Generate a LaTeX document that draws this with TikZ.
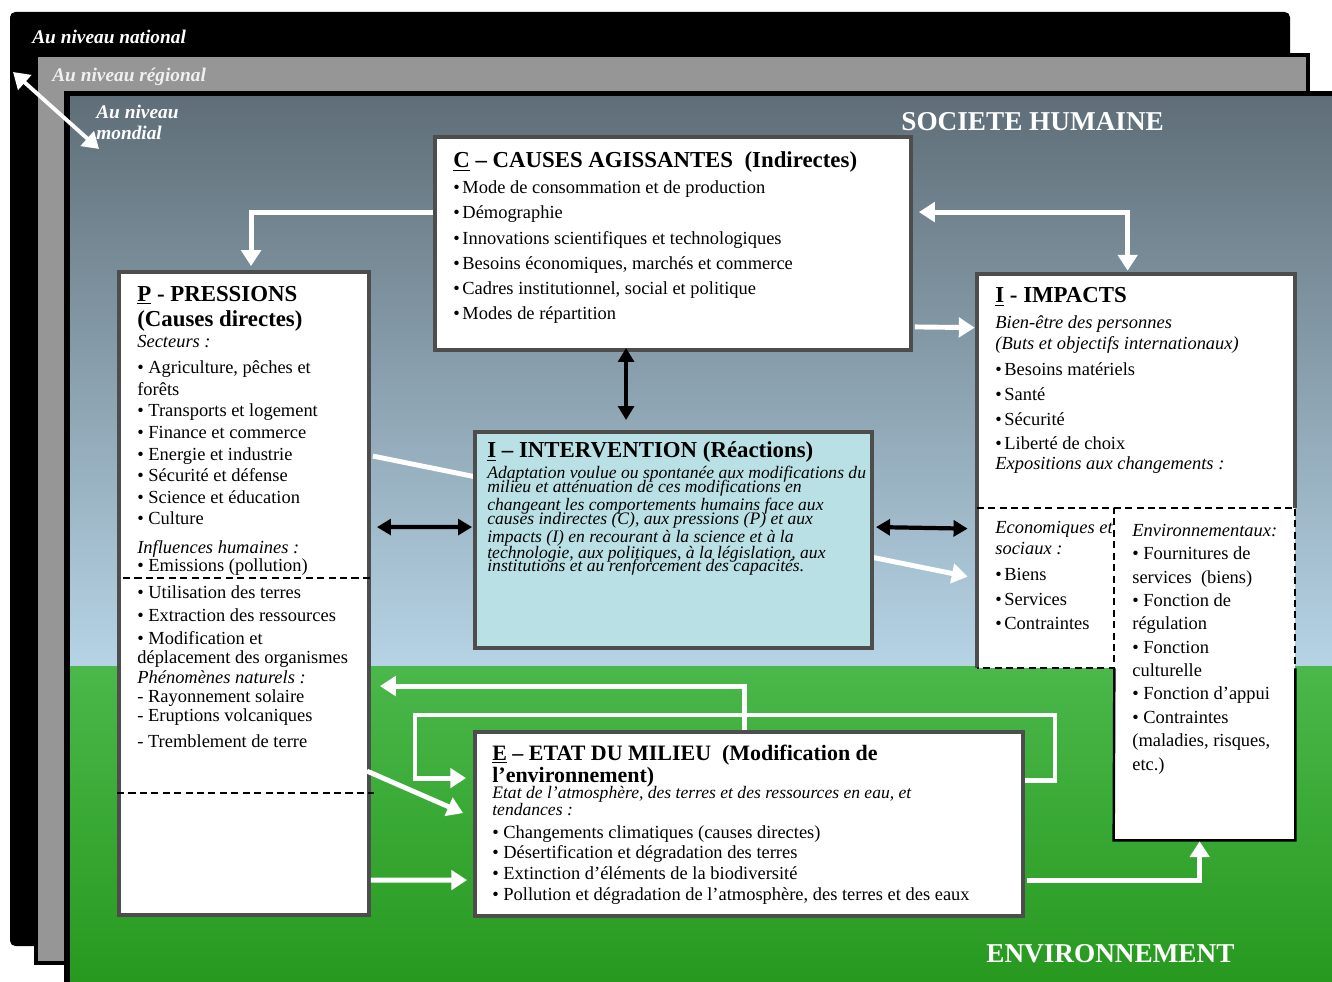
\documentclass[tikz,border=0pt]{standalone}
\usepackage{fontspec}
\setmainfont{Liberation Serif}
\usetikzlibrary{arrows.meta,positioning,calc,fit}

\definecolor{ciel}{HTML}{5F6E78}
\definecolor{cielbas}{HTML}{B6D4E6}
\definecolor{herbe}{HTML}{4AB84A}
\definecolor{herbebas}{HTML}{27991F}
\definecolor{cadre}{HTML}{4D4D4D}
\definecolor{reponse}{HTML}{B9E0E4}
\definecolor{regional}{HTML}{969696}

\newcommand{\taille}[2]{\fontsize{#1}{#2}\selectfont\lineskiplimit=-100pt\relax}
\newcommand{\puce}{\textbullet\hspace{1.5pt}}

% les noeuds a plusieurs lignes sont places sur la ligne de base de leur derniere ligne
\tikzset{
  boite/.style={draw=cadre, line width=2.2pt, fill=white, inner sep=0pt},
  titre/.style={anchor=base west, inner sep=0pt, align=left, font=\bfseries\taille{13}{14.7}},
  corps/.style={anchor=base west, inner sep=0pt, align=left, font=\taille{10.5}{14.4}},
  niveau/.style={anchor=base west, inner sep=0pt, align=left, text=white, font=\bfseries\itshape\taille{11}{12.5}},
  grand/.style={anchor=base west, inner sep=0pt, text=white, font=\bfseries\taille{15.5}{16}},
  fleche/.style={white, line width=2.8pt, -{Triangle[width=11pt,length=9pt]}},
  dfleche/.style={white, line width=2.8pt, {Triangle[width=11pt,length=9pt]}-{Triangle[width=11pt,length=9pt]}},
  nfleche/.style={black, line width=2.4pt, {Triangle[width=9pt,length=8pt]}-{Triangle[width=9pt,length=8pt]}},
  pointille/.style={black, line width=1.1pt, dash pattern=on 4pt off 2.5pt},
}

\begin{document}
\begin{tikzpicture}[x=0.02cm, y=-0.02cm]
    \useasboundingbox (0,0) rectangle (1332,982);

    % les trois niveaux
    \fill[black, rounded corners=3pt] (10,12) rectangle (1290,946);
    \draw[black, line width=2.5pt, fill=regional] (36,55) rectangle (1308,963);
    \fill[black] (64,91) rectangle (1340,990);
    \shade[top color=ciel, bottom color=cielbas] (70,97) rectangle (1332,667);
    \shade[top color=herbe, bottom color=herbebas] (70,667) rectangle (1332,982);

    \node[niveau] (nat) at (32,44) {Au niveau national};
    \node[niveau, text=gray!12] (reg) at (52,82) {Au niveau régional};
    \begin{scope}
        \clip (70,97) rectangle (300,142);
        \node[niveau] (mond) at (96,140) {Au niveau\\mondial};
    \end{scope}
    \coordinate (lvlA) at (13,72);
    \coordinate (lvlB) at (99,149);
    \draw[dfleche, line width=2.2pt] (lvlA) -- (lvlB);

    \node[grand] (soc) at (901,131) {SOCIETE HUMAINE};
    \node[grand] (envt) at (986,962) {ENVIRONNEMENT};

    % boites
    \node[boite, fit={(435,137) (911,350)}] (C) {};
    \node[boite, fit={(119,272) (369,915)}] (P) {};
    \node[fill=white, inner sep=0pt, fit={(977,274) (1295,508)}] (Imp) {};
    \node[fill=white, inner sep=0pt, fit={(977,508) (1114,668)}] (Eco) {};
    \node[fill=white, inner sep=0pt, fit={(1114,508) (1295,840)}] (Env) {};
    \draw[cadre, line width=2.2pt] (Eco.south west) -- (Imp.north west) -- (Imp.north east) -- (Imp.south east);
    \draw[pointille] (Eco.north west) -- (Eco.north east) -- (Eco.south east) -- (Eco.south west);
    \draw[pointille] (Env.north west) -- (Env.north east) -- (Env.east |- Eco.south);
    \draw[black, line width=1.4pt] (Env.east |- Eco.south) -- (Env.south east) -- (Env.south west) -- (Eco.south east);
    \node[boite, fit={(475,732) (1023,916)}] (E) {};

    % P vers impacts, derriere l'intervention
    \draw[fleche] ($(P.north east)+(2,186)$) -- ($(Eco.north west)+(-9,69)$);
    \node[boite, fill=reponse, fit={(475,432) (872,648)}] (Int) {};

    \draw[pointille] ($(P.north west)+(6,308)$) -- ($(P.north east)+(2,308)$);
    \draw[pointille] ($(P.north west)+(0,523)$) -- ($(P.north east)+(3,523)$);

    % C - causes agissantes
    \node[titre] (Cttl) at (453,168) {\underline{C} – CAUSES AGISSANTES \ (Indirectes)};
    \node[corps] (Ctxt) at (453,320) {\puce Mode de consommation et de production\\
        \puce Démographie\\
        \puce Innovations scientifiques et technologiques\\
        \puce Besoins économiques, marchés et commerce\\
        \puce Cadres institutionnel, social et politique\\
        \puce Modes de répartition};

    % P - pressions
    \node[titre] (Pttl) at (137,327) {\underline{P} - PRESSIONS\\(Causes directes)};
    \node[corps, font=\taille{10.5}{12.3}] (Psect) at (137,525) {\textit{Secteurs :}\\[2.5pt]
        • Agriculture, pêches et\\forêts\\
        • Transports et logement\\
        • Finance et commerce\\
        • Energie et industrie\\
        • Sécurité et défense\\
        • Science et éducation\\
        • Culture};
    \node[corps, font=\taille{10.5}{10.5}] (Pinfl) at (137,572) {\textit{Influences humaines :}\\
        • Emissions (pollution)};
    \node[corps, font=\taille{10.5}{13.2}] (Pterr) at (137,645) {• Utilisation des terres\\
        • Extraction des ressources\\
        • Modification et};
    \node[corps, font=\taille{10.5}{11}] (Pnat) at (137,747) {déplacement des organismes\\
        \textit{Phénomènes naturels :}\\
        - Rayonnement solaire\\
        - Eruptions volcaniques\\[3.3pt]
        - Tremblement de terre};

    % I - intervention
    \node[titre] (Ittl) at (487,458) {\underline{I} – INTERVENTION (Réactions)};
    \node[corps, font=\itshape\taille{10}{7.9}] (Itxt) at (487,572) {Adaptation voulue ou spontanée aux modifications du\\
        milieu et atténuation de ces modifications en\\[2.3pt]
        changeant les comportements humains face aux\\
        causes indirectes (C), aux pressions (P) et aux\\[2.3pt]
        impacts (I) en recourant à la science et à la\\[1.2pt]
        technologie, aux politiques, à la législation, aux\\
        institutions et au renforcement des capacités.};

    % I - impacts
    \node[titre] (Mttl) at (995,303) {\underline{I} - IMPACTS};
    \node[corps, font=\itshape\taille{10.5}{12.5}] (Mbien) at (995,350) {Bien-être des personnes\\
        (Buts et objectifs internationaux)};
    \node[corps, font=\taille{10.5}{14.2}] (Mbes) at (995,450) {\puce Besoins matériels\\
        \puce Santé\\
        \puce Sécurité\\
        \puce Liberté de choix};
    \node[corps, font=\itshape\taille{10.5}{12.5}] (Mexp) at (995,470) {Expositions aux changements :};
    \node[corps, font=\itshape\taille{10.5}{12.5}] (Ecottl) at (995,555) {Economiques et\\sociaux :};
    \node[corps, font=\taille{10.5}{14.2}] (Ecotxt) at (995,630) {\puce Biens\\
        \puce Services\\
        \puce Contraintes};
    \node[corps, font=\taille{10.5}{13.3}] (Envtxt) at (1132,770) {\textit{Environnementaux:}\\
        • Fournitures de\\services \ (biens)\\
        • Fonction de\\régulation\\
        • Fonction\\culturelle\\
        • Fonction d’appui\\
        • Contraintes\\(maladies, risques,\\etc.)};

    % E - etat du milieu
    \node[titre, font=\bfseries\taille{12.5}{12.5}] (Ettl) at (492,782) {\underline{E} – ETAT DU MILIEU \ (Modification de\\l’environnement)};
    \node[corps, font=\itshape\taille{10}{9.6}] (Eetat) at (492,815) {Etat de l’atmosphère, des terres et des ressources en eau, et\\
        tendances :};
    \node[corps, font=\taille{10.5}{11.7}] (Etxt) at (492,900) {• Changements climatiques (causes directes)\\
        • Désertification et dégradation des terres\\
        • Extinction d’éléments de la biodiversité\\
        • Pollution et dégradation de l’atmosphère, des terres et des eaux};

    % liaisons
    \draw[fleche] ($(C.north west)+(0,77)$) -| ($(P.north west)+(134,-4)$);
    \draw[dfleche] ($(C.north east)+(6,77)$) -| ($(Imp.north west)+(151,-3)$);
    \draw[fleche] ($(C.south east)+(2,-25)$) -- ($(Imp.north west)+(-2,54)$);
    \draw[nfleche] ($(C.south west)+(193,-4)$) -- ($(Int.north west)+(153,-10)$);
    \draw[nfleche] ($(P.north east)+(6,257)$) -- ($(Int.north west)+(-1,97)$);
    \draw[nfleche] ($(Int.north east)+(2,97)$) -- ($(Eco.north west)+(-9,21)$);

    \coordinate (boucleD) at (1055,715);
    \coordinate (boucleG) at (415,715);
    \draw[fleche] ($(E.north west)+(271,0)$) |- ($(P.north east)+(9,416)$);
    \draw[fleche] ($(E.north east)+(0,50)$) -| (boucleD) -- (boucleG) |- ($(E.north west)+(-7,48)$);
    \draw[fleche] ($(P.north east)+(-4,501)$) -- ($(E.north west)+(-10,83)$);
    \draw[fleche] ($(P.north east)+(0,610)$) -- ($(E.north west)+(-6,150)$);
    \draw[fleche] ($(E.north east)+(2,150)$) -| ($(Env.south west)+(86,1)$);
\end{tikzpicture}
\end{document}
